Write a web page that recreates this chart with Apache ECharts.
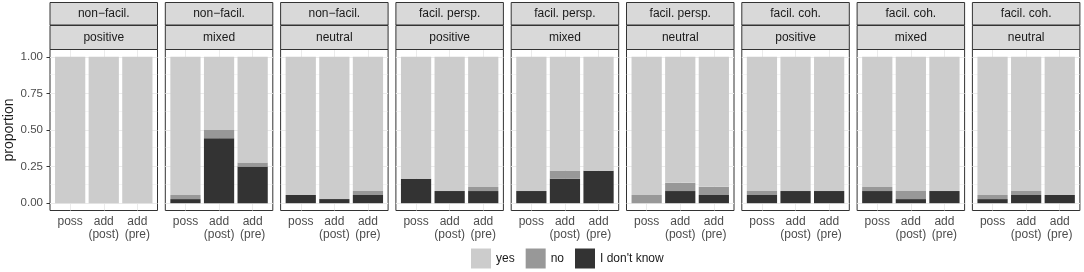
<!DOCTYPE html>
<html>
<head>
<meta charset="utf-8">
<script src="https://cdn.jsdelivr.net/npm/echarts@6/dist/echarts.min.js"></script>
<style>
  html, body { margin: 0; padding: 0; background: #fff; }
  #chart { width: 1084px; height: 272px; }
</style>
</head>
<body>
<div id="chart"></div>
<script>
// facet labels (two strip rows)
const facetOuter = ['non\u2212facil.', 'non\u2212facil.', 'non\u2212facil.',
  'facil. persp.', 'facil. persp.', 'facil. persp.',
  'facil. coh.', 'facil. coh.', 'facil. coh.']
const facetInner = ['positive', 'mixed', 'neutral',
  'positive', 'mixed', 'neutral',
  'positive', 'mixed', 'neutral']

const conditions = ['poss', 'add\n(post)', 'add\n(pre)']
const yTicks = [0, 0.25, 0.5, 0.75, 1]
const yMinor = [0.125, 0.375, 0.625, 0.875]

// proportions per panel, one value per condition
const idkValues = [
  [0, 0, 0],
  [0.028, 0.444, 0.25],
  [0.056, 0.028, 0.056],
  [0.167, 0.083, 0.083],
  [0.083, 0.167, 0.222],
  [0, 0.083, 0.056],
  [0.056, 0.083, 0.083],
  [0.083, 0.028, 0.083],
  [0.028, 0.056, 0.056],
]
const noValues = [
  [0, 0, 0],
  [0.028, 0.056, 0.028],
  [0, 0, 0.028],
  [0, 0, 0.028],
  [0, 0.056, 0],
  [0.056, 0.056, 0.056],
  [0.028, 0, 0],
  [0.028, 0.056, 0],
  [0.028, 0.028, 0],
]
const yesValues = [
  [1, 1, 1],
  [0.944, 0.5, 0.722],
  [0.944, 0.972, 0.916],
  [0.833, 0.917, 0.889],
  [0.917, 0.777, 0.778],
  [0.944, 0.861, 0.888],
  [0.916, 0.917, 0.917],
  [0.889, 0.916, 0.917],
  [0.944, 0.916, 0.944],
]

const COLORS = { yes: '#cccccc', no: '#989898', idk: '#333333' }
const FONT = 'Liberation Sans, Arial, sans-serif'

const PANEL_LEFT = 50
const PANEL_STEP = 115.3
const PANEL_W = 107.5
const PANEL_TOP = 49.5
const PANEL_H = 161
// ggplot expansion: discrete +-0.6, continuous 5%
const UNIT_X = PANEL_W / 3.2
const UNIT_Y = PANEL_H / 1.1

const chart = echarts.init(document.getElementById('chart'))

const grids = []
const xAxes = []
const yAxes = []
const series = []
const graphics = []

facetInner.forEach((_, i) => {
  const left = PANEL_LEFT + i * PANEL_STEP
  const outer = 2 * i
  const inner = 2 * i + 1

  // outer panel: box, grid lines, axis ticks and labels
  grids.push({
    left: left, top: PANEL_TOP, width: PANEL_W, height: PANEL_H,
    show: true, backgroundColor: '#ffffff', borderColor: '#333333', borderWidth: 1,
  })
  // inner area: the data range the bars live in
  grids.push({
    left: left + 0.1 * UNIT_X, top: PANEL_TOP + 0.05 * UNIT_Y,
    width: 3 * UNIT_X, height: UNIT_Y,
  })

  xAxes.push({
    gridIndex: outer, type: 'value', min: 0.4, max: 3.6,
    axisLine: { show: false },
    splitLine: { show: false },
    axisTick: { show: true, customValues: [1, 2, 3], length: 3.5, lineStyle: { color: '#333333', width: 1 } },
    axisLabel: {
      customValues: [1, 2, 3],
      formatter: (v) => conditions[Math.round(v) - 1] || '',
      color: '#4d4d4d', fontSize: 12, fontFamily: FONT, margin: 5, lineHeight: 13,
    },
  })
  xAxes.push({
    gridIndex: inner, type: 'category', data: conditions, show: false,
  })
  yAxes.push({
    gridIndex: outer, type: 'value', min: -0.05, max: 1.05,
    axisLine: { show: false },
    splitLine: { show: false },
    axisTick: { show: i === 0, customValues: yTicks, length: 3.5, lineStyle: { color: '#333333', width: 1 } },
    axisLabel: {
      show: i === 0, customValues: yTicks,
      formatter: (v) => v.toFixed(2),
      color: '#4d4d4d', fontSize: 11.5, fontFamily: FONT, margin: 7,
    },
    name: i === 0 ? 'proportion' : '',
    nameLocation: 'middle', nameRotate: 90, nameGap: 34,
    nameTextStyle: { color: '#1a1a1a', fontSize: 14, fontFamily: FONT },
  })
  yAxes.push({
    gridIndex: inner, type: 'value', min: 0, max: 1, show: false,
  })

  // background grid lines
  const lines = []
  yTicks.forEach((v) => lines.push({ yAxis: v, lineStyle: { width: 1 } }))
  yMinor.forEach((v) => lines.push({ yAxis: v, lineStyle: { width: 0.5 } }))
  ;[1, 2, 3].forEach((v) => lines.push({ xAxis: v, lineStyle: { width: 1 } }))
  series.push({
    type: 'line', xAxisIndex: outer, yAxisIndex: outer, data: [], z: 1,
    silent: true,
    markLine: {
      z: 1, silent: true, symbol: 'none', animation: false,
      label: { show: false },
      lineStyle: { color: '#ebebeb', type: 'solid' },
      data: lines,
    },
  })

  const stackSeries = [
    { name: "I don't know", color: COLORS.idk, vals: idkValues[i] },
    { name: 'no', color: COLORS.no, vals: noValues[i] },
    { name: 'yes', color: COLORS.yes, vals: yesValues[i] },
  ]
  stackSeries.forEach((s) => {
    series.push({
      name: s.name, type: 'bar', stack: 'p' + i,
      xAxisIndex: inner, yAxisIndex: inner, z: 3,
      barWidth: '90%',
      itemStyle: { color: s.color },
      emphasis: { disabled: true },
      data: s.vals,
    })
  })

  // facet strips
  const strips = [[facetOuter[i], 2.5, 22.5], [facetInner[i], 25.5, 24]]
  strips.forEach(([text, y, h]) => {
    graphics.push({
      type: 'rect', shape: { x: left, y: y, width: PANEL_W, height: h },
      style: { fill: '#d9d9d9', stroke: '#333333', lineWidth: 1 }, z: 5,
    })
    graphics.push({
      type: 'text', x: left + PANEL_W / 2, y: y + h / 2, z: 6,
      style: { text: text, fill: '#1a1a1a', font: '12px ' + FONT, align: 'center', verticalAlign: 'middle' },
    })
  })
})

const option = {
  animation: false,
  backgroundColor: '#ffffff',
  grid: grids,
  xAxis: xAxes,
  yAxis: yAxes,
  legend: {
    data: ['yes', 'no', "I don't know"],
    left: 471, top: 248.5,
    icon: 'rect', itemWidth: 20, itemHeight: 20, itemGap: 11, padding: 0,
    textStyle: { color: '#1a1a1a', fontSize: 12, fontFamily: FONT },
    selectedMode: false,
  },
  graphic: graphics,
  series,
}

chart.setOption(option)
</script>
</body>
</html>
